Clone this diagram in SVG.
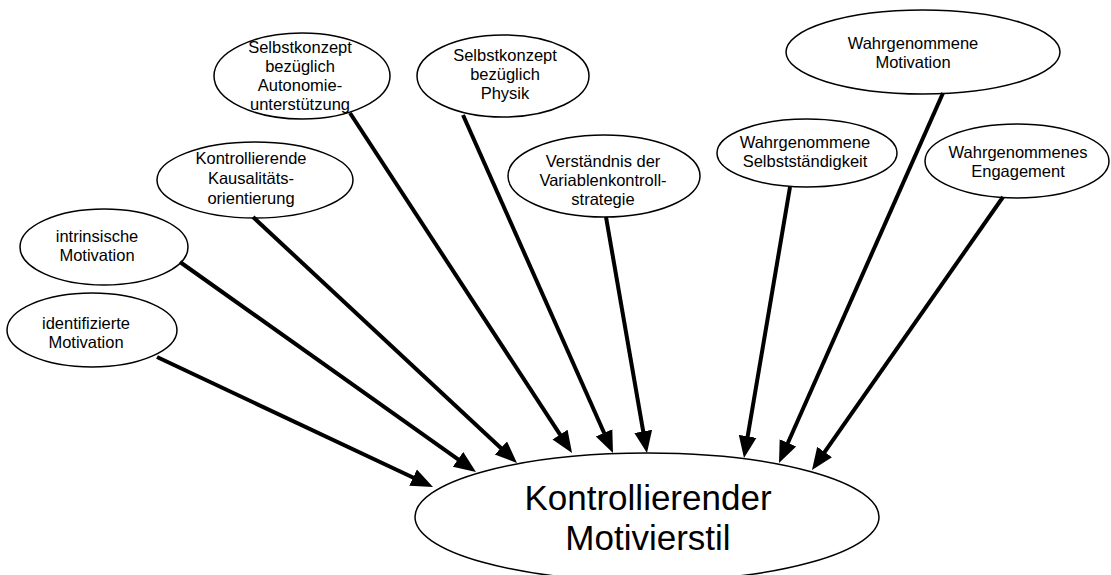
<svg xmlns="http://www.w3.org/2000/svg" width="1111" height="575" viewBox="0 0 1111 575">
  <style>
    .node ellipse { fill: #ffffff; stroke: #000000; stroke-width: 1.5; }
    .node text { font-family: "Liberation Sans", Arial, sans-serif; font-size: 16.5px; fill: #000000; text-anchor: middle; }
    #target text { font-size: 35px; }
    #connectors line { stroke: #000000; stroke-width: 4; marker-end: url(#head); }
  </style>
  <defs>
    <marker id="head" markerUnits="userSpaceOnUse" viewBox="0 -10 24 20" markerWidth="24" markerHeight="20" refX="4" refY="0" orient="auto">
      <path d="M0,-9 L22,0 L0,9 Z" fill="#000000"/>
    </marker>
  </defs>
  <rect width="1111" height="575" fill="#ffffff"/>

  <!-- outcome node -->
  <g id="target" class="node">
    <ellipse cx="647" cy="517" rx="232" ry="64"/>
    <text x="648" y="510">Kontrollierender</text>
    <text x="648" y="550">Motivierstil</text>
  </g>

  <!-- predictor nodes -->
  <g id="identifiziert" class="node">
    <ellipse cx="92" cy="330" rx="85" ry="37"/>
    <text x="86" y="329">identifizierte</text>
    <text x="86" y="348">Motivation</text>
  </g>
  <g id="intrinsisch" class="node">
    <ellipse cx="104" cy="247" rx="84" ry="38"/>
    <text x="97" y="242">intrinsische</text>
    <text x="97" y="261">Motivation</text>
  </g>
  <g id="kausalitaet" class="node">
    <ellipse cx="255" cy="180" rx="98" ry="38"/>
    <text x="251" y="164">Kontrollierende</text>
    <text x="251" y="184">Kausalitäts-</text>
    <text x="251" y="204">orientierung</text>
  </g>
  <g id="autonomie" class="node">
    <ellipse cx="302" cy="76" rx="88" ry="43"/>
    <text x="300" y="53">Selbstkonzept</text>
    <text x="300" y="72">bezüglich</text>
    <text x="300" y="91">Autonomie-</text>
    <text x="300" y="110">unterstützung</text>
  </g>
  <g id="physik" class="node">
    <ellipse cx="503" cy="76" rx="86" ry="41"/>
    <text x="505" y="61">Selbstkonzept</text>
    <text x="505" y="80">bezüglich</text>
    <text x="505" y="99">Physik</text>
  </g>
  <g id="vks" class="node">
    <ellipse cx="604" cy="176" rx="96" ry="41"/>
    <text x="603" y="167">Verständnis der</text>
    <text x="603" y="186">Variablenkontroll-</text>
    <text x="603" y="205">strategie</text>
  </g>
  <g id="selbststaendigkeit" class="node">
    <ellipse cx="807" cy="153" rx="90" ry="34"/>
    <text x="805" y="148">Wahrgenommene</text>
    <text x="805" y="167">Selbstständigkeit</text>
  </g>
  <g id="motivation" class="node">
    <ellipse cx="923" cy="52" rx="137" ry="42"/>
    <text x="913" y="49">Wahrgenommene</text>
    <text x="913" y="68">Motivation</text>
  </g>
  <g id="engagement" class="node">
    <ellipse cx="1017" cy="161" rx="92" ry="37"/>
    <text x="1018" y="158">Wahrgenommenes</text>
    <text x="1018" y="177">Engagement</text>
  </g>

  <!-- arrows into the outcome node -->
  <g id="connectors">
    <line x1="157" y1="357" x2="416.7" y2="479.3"/>
    <line x1="180" y1="262" x2="461.3" y2="461.6"/>
    <line x1="253" y1="217" x2="503.8" y2="450.7"/>
    <line x1="350" y1="113" x2="562.2" y2="437.9"/>
    <line x1="463" y1="115" x2="605.7" y2="436.5"/>
    <line x1="606" y1="217" x2="643.9" y2="435.3"/>
    <line x1="790" y1="187" x2="747.0" y2="440.3"/>
    <line x1="943" y1="93" x2="786.3" y2="446.5"/>
    <line x1="1003" y1="197" x2="822.3" y2="455.3"/>
  </g>
</svg>
